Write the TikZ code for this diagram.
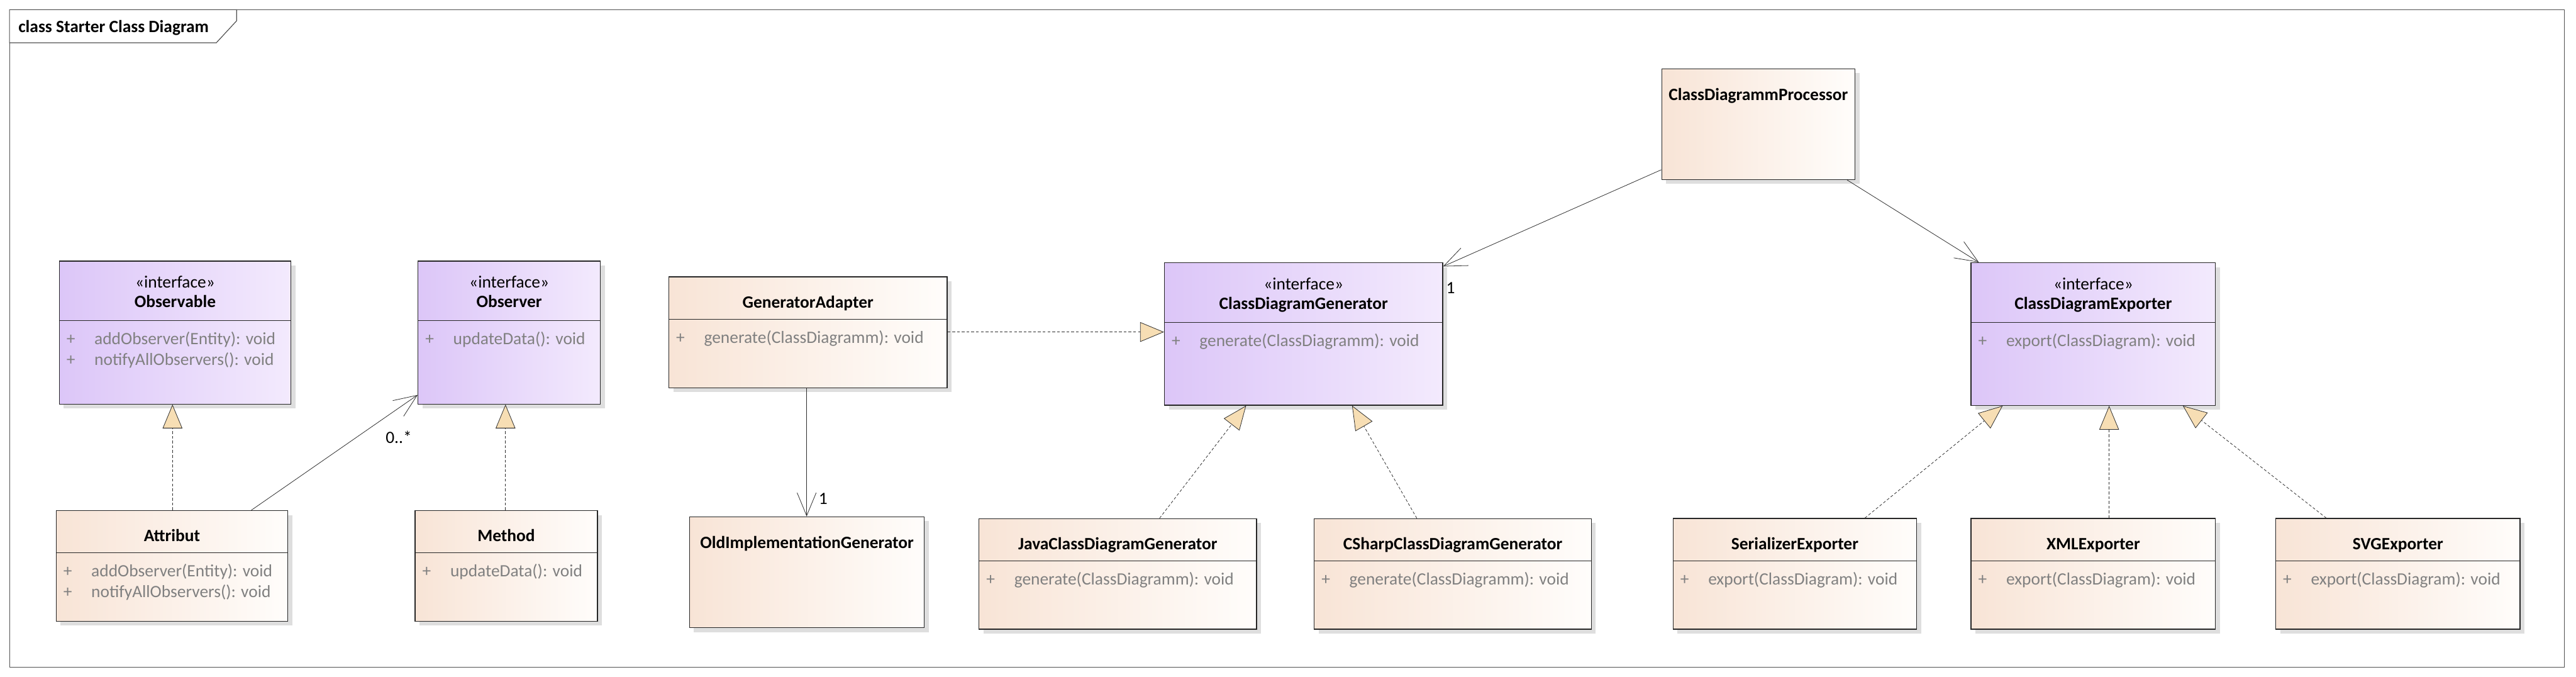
\documentclass[tikz,border=0pt]{standalone}
\usepackage{fontspec}
\setmainfont{Carlito}
\usetikzlibrary{arrows.meta,shadows}
\definecolor{ifL}{RGB}{220,198,248}
\definecolor{ifR}{RGB}{243,234,253}
\definecolor{clL}{RGB}{248,228,214}
\definecolor{clR}{RGB}{255,253,251}
\definecolor{triF}{RGB}{247,222,180}
\definecolor{lineC}{RGB}{45,45,45}
\definecolor{opC}{RGB}{128,128,128}
\definecolor{shadC}{RGB}{222,222,222}
\definecolor{frameC}{RGB}{80,80,80}
\tikzset{
 fnt/.style={font=\fontsize{10.5pt}{12pt}\selectfont},
 box/.style={draw=black!85, line width=0.5pt, anchor=north west, inner sep=0pt,
   drop shadow={shadow xshift=2.7pt, shadow yshift=-2.7pt, fill=shadC, opacity=1}},
 iface/.style={box, left color=ifL, right color=ifR},
 klass/.style={box, left color=clL, right color=clR},
 sepline/.style={draw=black!85, line width=0.45pt},
 cname/.style={font=\fontsize{10.5pt}{12pt}\selectfont\bfseries, anchor=base, inner sep=0pt},
 stereo/.style={fnt, anchor=base, inner sep=0pt},
 oper/.style={fnt, text=opC, anchor=base west, inner sep=0pt},
 vis/.style={fnt, text=opC, anchor=base, inner sep=0pt},
 realize/.style={draw=lineC, line width=0.3pt, dash pattern=on 1.7pt off 1.2pt,
   -{Triangle[length=14.5pt,width=12pt,fill=triF]}},
 assoc/.style={draw=lineC, line width=0.3pt, -{Straight Barb[length=14pt,width=11.6pt]}},
 mult/.style={fnt, anchor=base, inner sep=0pt},
}
\begin{document}
\begin{tikzpicture}[x=1pt,y=-1pt]
\useasboundingbox[fill=white] (0,0) rectangle (1568,411.8);
% frame
\draw[line width=0.45pt, draw=frameC] (5.8,5.9) rectangle (1561,406);
\draw[line width=0.45pt, draw=frameC, fill=white] (5.8,5.9) -- (144,5.9) -- (144,12.7) -- (131.7,26) -- (5.8,26) -- cycle;
\node[cname, anchor=base west] (title) at (11,19.6) {class Starter Class Diagram};

% Observable
\node[iface, minimum width=141.1pt, minimum height=87pt] (obsable) at (35.8,158.6) {};
\draw[sepline] ([yshift=-36.6pt]obsable.north west) -- ([yshift=-36.6pt]obsable.north east);
\node[stereo] (obsable-st) at ([yshift=-16.5pt]obsable.north) {«interface»};
\node[cname] (obsable-nm) at ([yshift=-28.5pt]obsable.north) {Observable};
\node[vis] (obsable-v1) at ([xshift=7.3pt,yshift=-51.1pt]obsable.north west) {+};
\node[oper] (obsable-o1) at ([xshift=21.5pt,yshift=-51.1pt]obsable.north west) {addObserver(Entity): void};
\node[vis] (obsable-v2) at ([xshift=7.3pt,yshift=-63.6pt]obsable.north west) {+};
\node[oper] (obsable-o2) at ([xshift=21.5pt,yshift=-63.6pt]obsable.north west) {notifyAllObservers(): void};

% Observer
\node[iface, minimum width=111pt, minimum height=87pt] (obsver) at (254.2,158.6) {};
\draw[sepline] ([yshift=-36.6pt]obsver.north west) -- ([yshift=-36.6pt]obsver.north east);
\node[stereo] (obsver-st) at ([yshift=-16.5pt]obsver.north) {«interface»};
\node[cname] (obsver-nm) at ([yshift=-28.5pt]obsver.north) {Observer};
\node[vis] (obsver-v1) at ([xshift=7.3pt,yshift=-51.1pt]obsver.north west) {+};
\node[oper] (obsver-o1) at ([xshift=21.5pt,yshift=-51.1pt]obsver.north west) {updateData(): void};

% Attribut
\node[klass, minimum width=141pt, minimum height=67.3pt] (attr) at (33.9,310.4) {};
\draw[sepline] ([yshift=-26pt]attr.north west) -- ([yshift=-26pt]attr.north east);
\node[cname] (attr-nm) at ([yshift=-19pt]attr.north) {Attribut};
\node[vis] (attr-v1) at ([xshift=7.3pt,yshift=-40.5pt]attr.north west) {+};
\node[oper] (attr-o1) at ([xshift=21.5pt,yshift=-40.5pt]attr.north west) {addObserver(Entity): void};
\node[vis] (attr-v2) at ([xshift=7.3pt,yshift=-53pt]attr.north west) {+};
\node[oper] (attr-o2) at ([xshift=21.5pt,yshift=-53pt]attr.north west) {notifyAllObservers(): void};

% Method
\node[klass, minimum width=111pt, minimum height=67.3pt] (meth) at (252.4,310.4) {};
\draw[sepline] ([yshift=-26pt]meth.north west) -- ([yshift=-26pt]meth.north east);
\node[cname] (meth-nm) at ([yshift=-19pt]meth.north) {Method};
\node[vis] (meth-v1) at ([xshift=7.3pt,yshift=-40.5pt]meth.north west) {+};
\node[oper] (meth-o1) at ([xshift=21.5pt,yshift=-40.5pt]meth.north west) {updateData(): void};

% GeneratorAdapter
\node[klass, minimum width=169.3pt, minimum height=67.5pt] (genad) at (406.9,168.2) {};
\draw[sepline] ([yshift=-26.2pt]genad.north west) -- ([yshift=-26.2pt]genad.north east);
\node[cname] (genad-nm) at ([yshift=-19pt]genad.north) {GeneratorAdapter};
\node[vis] (genad-v1) at ([xshift=7.3pt,yshift=-40.7pt]genad.north west) {+};
\node[oper] (genad-o1) at ([xshift=21.5pt,yshift=-40.7pt]genad.north west) {generate(ClassDiagramm): void};

% OldImplementationGenerator
\node[klass, minimum width=143pt, minimum height=67.4pt] (oldimpl) at (419.4,314.2) {};
\node[cname] (oldimpl-nm) at ([yshift=-19.5pt]oldimpl.north) {OldImplementationGenerator};

% ClassDiagramGenerator
\node[iface, minimum width=169.4pt, minimum height=86.7pt] (cdg) at (708.5,159.6) {};
\draw[sepline] ([yshift=-36.7pt]cdg.north west) -- ([yshift=-36.7pt]cdg.north east);
\node[stereo] (cdg-st) at ([yshift=-16.5pt]cdg.north) {«interface»};
\node[cname] (cdg-nm) at ([yshift=-28.5pt]cdg.north) {ClassDiagramGenerator};
\node[vis] (cdg-v1) at ([xshift=7.3pt,yshift=-51.2pt]cdg.north west) {+};
\node[oper] (cdg-o1) at ([xshift=21.5pt,yshift=-51.2pt]cdg.north west) {generate(ClassDiagramm): void};

% JavaClassDiagramGenerator
\node[klass, minimum width=168.9pt, minimum height=67.3pt] (java) at (595.7,315.3) {};
\draw[sepline] ([yshift=-26pt]java.north west) -- ([yshift=-26pt]java.north east);
\node[cname] (java-nm) at ([yshift=-19pt]java.north) {JavaClassDiagramGenerator};
\node[vis] (java-v1) at ([xshift=7.3pt,yshift=-40.5pt]java.north west) {+};
\node[oper] (java-o1) at ([xshift=21.5pt,yshift=-40.5pt]java.north west) {generate(ClassDiagramm): void};

% CSharpClassDiagramGenerator
\node[klass, minimum width=168.7pt, minimum height=67.3pt] (csharp) at (799.7,315.3) {};
\draw[sepline] ([yshift=-26pt]csharp.north west) -- ([yshift=-26pt]csharp.north east);
\node[cname] (csharp-nm) at ([yshift=-19pt]csharp.north) {CSharpClassDiagramGenerator};
\node[vis] (csharp-v1) at ([xshift=7.3pt,yshift=-40.5pt]csharp.north west) {+};
\node[oper] (csharp-o1) at ([xshift=21.5pt,yshift=-40.5pt]csharp.north west) {generate(ClassDiagramm): void};

% ClassDiagrammProcessor
\node[klass, minimum width=117.7pt, minimum height=67.4pt] (proc) at (1011.2,41.6) {};
\node[cname] (proc-nm) at ([yshift=-19.5pt]proc.north) {ClassDiagrammProcessor};

% ClassDiagramExporter
\node[iface, minimum width=148.8pt, minimum height=86.8pt] (cde) at (1199.5,159.6) {};
\draw[sepline] ([yshift=-36.6pt]cde.north west) -- ([yshift=-36.6pt]cde.north east);
\node[stereo] (cde-st) at ([yshift=-16.5pt]cde.north) {«interface»};
\node[cname] (cde-nm) at ([yshift=-28.5pt]cde.north) {ClassDiagramExporter};
\node[vis] (cde-v1) at ([xshift=7.3pt,yshift=-51.1pt]cde.north west) {+};
\node[oper] (cde-o1) at ([xshift=21.5pt,yshift=-51.1pt]cde.north west) {export(ClassDiagram): void};

% SerializerExporter
\node[klass, minimum width=148.3pt, minimum height=67.4pt] (ser) at (1018.1,315.2) {};
\draw[sepline] ([yshift=-26.2pt]ser.north west) -- ([yshift=-26.2pt]ser.north east);
\node[cname] (ser-nm) at ([yshift=-19pt]ser.north) {SerializerExporter};
\node[vis] (ser-v1) at ([xshift=7.3pt,yshift=-40.7pt]ser.north west) {+};
\node[oper] (ser-o1) at ([xshift=21.5pt,yshift=-40.7pt]ser.north west) {export(ClassDiagram): void};

% XMLExporter
\node[klass, minimum width=148.8pt, minimum height=67.4pt] (xml) at (1199.5,315.2) {};
\draw[sepline] ([yshift=-26.2pt]xml.north west) -- ([yshift=-26.2pt]xml.north east);
\node[cname] (xml-nm) at ([yshift=-19pt]xml.north) {XMLExporter};
\node[vis] (xml-v1) at ([xshift=7.3pt,yshift=-40.7pt]xml.north west) {+};
\node[oper] (xml-o1) at ([xshift=21.5pt,yshift=-40.7pt]xml.north west) {export(ClassDiagram): void};

% SVGExporter
\node[klass, minimum width=148.7pt, minimum height=67.4pt] (svg) at (1385,315.2) {};
\draw[sepline] ([yshift=-26.2pt]svg.north west) -- ([yshift=-26.2pt]svg.north east);
\node[cname] (svg-nm) at ([yshift=-19pt]svg.north) {SVGExporter};
\node[vis] (svg-v1) at ([xshift=7.3pt,yshift=-40.7pt]svg.north west) {+};
\node[oper] (svg-o1) at ([xshift=21.5pt,yshift=-40.7pt]svg.north west) {export(ClassDiagram): void};

% connectors
\draw[realize] ([xshift=71.1pt]attr.north west) -- ([xshift=69.2pt]obsable.south west);
\draw[assoc] ([xshift=119.1pt]attr.north west) -- ([yshift=5.8pt]obsver.south west);
\node[mult] (m-obs) at (242.7,269.5) {0..*};
\draw[realize] ([xshift=55.3pt]meth.north west) -- ([xshift=53.5pt]obsver.south west);
\draw[realize] ([yshift=-33.8pt]genad.north east) -- ([yshift=-42.4pt]cdg.north west);
\draw[assoc] ([xshift=84.1pt]genad.south west) -- ([xshift=71.6pt]oldimpl.north west);
\node[mult] (m-old) at (501,307) {1};
\draw[realize] ([xshift=110.1pt]java.north west) -- ([xshift=50pt]cdg.south west);
\draw[realize] ([xshift=62.7pt]csharp.north west) -- ([xshift=114.5pt]cdg.south west);
\draw[assoc] ([yshift=6.2pt]proc.south west) -- ([yshift=-2.5pt]cdg.north east);
\node[mult] (m-cdg) at (883,178.4) {1};
\draw[assoc] ([xshift=-5.1pt]proc.south east) -- ([xshift=5pt]cde.north west);
\draw[realize] ([xshift=117pt]ser.north west) -- ([xshift=19.5pt]cde.south west);
\draw[realize] ([xshift=84.3pt]xml.north west) -- ([xshift=84.3pt]cde.south west);
\draw[realize] ([xshift=31pt]svg.north west) -- ([xshift=129.2pt]cde.south west);
\end{tikzpicture}
\end{document}
